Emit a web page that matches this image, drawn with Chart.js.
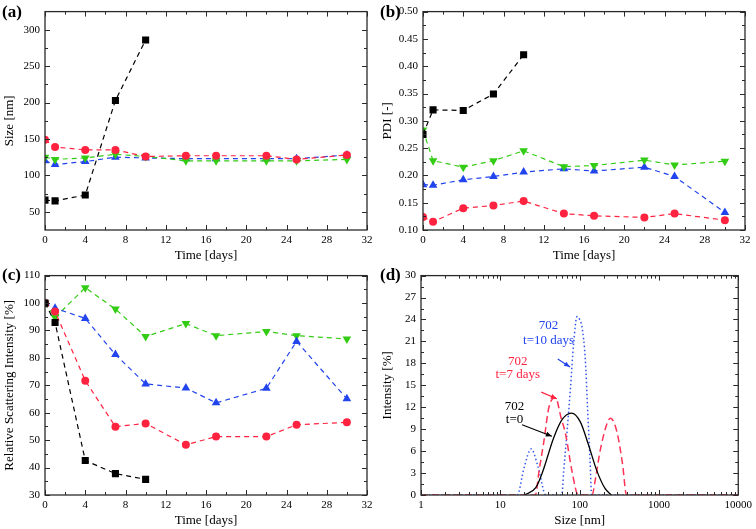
<!DOCTYPE html>
<html><head><meta charset="utf-8">
<script src="https://cdn.jsdelivr.net/npm/chart.js@4"></script>
<style>
body{margin:0;background:#fff;width:756px;height:529px;position:relative;overflow:hidden;font-family:"Liberation Serif",serif}
.p{position:absolute}
.lab{position:absolute;font:bold 17px "Liberation Serif";color:#000;line-height:20px}
</style></head><body>
<div class="p" style="left:0;top:0;width:378px;height:264px"><canvas id="ca"></canvas></div>
<div class="p" style="left:378px;top:0;width:378px;height:264px"><canvas id="cb"></canvas></div>
<div class="p" style="left:0;top:264px;width:378px;height:265px"><canvas id="cc"></canvas></div>
<div class="p" style="left:378px;top:264px;width:378px;height:265px"><canvas id="cd"></canvas></div>
<div class="lab" style="left:2px;top:2px">(a)</div>
<div class="lab" style="left:380px;top:2px">(b)</div>
<div class="lab" style="left:2px;top:265px">(c)</div>
<div class="lab" style="left:380px;top:265px">(d)</div>
<script>
// ---------- data ----------
const days = [0,1,4,7,10,14,17,22,25,30];
const daysShort = [0,1,4,7,10];
const timeTicks = [0,4,8,12,16,20,24,28,32];

// (a) Size [nm]
const sizeBlack = [66,65,73,203,286];
const sizeRed   = [149,139,135,135,126,127,127,127,122,128];
const sizeGreen = [125,122,124,129,126,120,120,120,120,122];
const sizeBlue  = [120,115,119,125,124,123,123,123,123,128];
const sizeTicks = [50,100,150,200,250,300];

// (b) PDI
const pdiBlack = [0.275,0.320,0.319,0.349,0.421];
const pdiGreen = [0.283,0.227,0.215,0.227,0.245,0.216,0.218,0.228,0.219,0.226];
const pdiBlue  = [0.183,0.182,0.192,0.198,0.206,0.212,0.208,0.215,0.198,0.132];
const pdiRed   = [0.124,0.115,0.140,0.145,0.153,0.130,0.126,0.123,0.130,0.118];
const pdiTicks = [0.10,0.15,0.20,0.25,0.30,0.35,0.40,0.45,0.50];

// (c) Relative scattering intensity [%]
const rsiBlack = [100,92.9,42.6,37.8,35.7];
const rsiRed   = [100,96.9,71.7,54.9,56.1,48.3,51.3,51.3,55.6,56.5];
const rsiBlue  = [100,98.1,94.4,81.2,70.5,69,63.6,68.9,86,65.1];
const rsiGreen = [100,94.7,105.6,97.8,87.8,92.5,88.1,89.6,88.1,86.9];
const rsiTicks = [30,40,50,60,70,80,90,100,110];

// (d) Size distributions
const dBlackSize = [20,28,34,47,60,79,102,129,165,209,250];
const dBlackInt  = [0,1.0,3.1,7.8,10.3,11.2,10.0,6.9,3.3,0.9,0];
const dRedSize = [1,27.6,31,35.5,41,49.7,58.5,66.6,80,96,143,160,181,219,245,294,348,390,10000];
const dRedInt  = [0,0,3.5,7.4,12,13.3,10.5,8.3,3.3,0,0,2.5,6,9.6,10.5,8.7,4.2,0,0];
const dBlueSize = [1,16.3,20,24.5,30,37.5,59.6,63,69.5,76.5,84,92.7,100,107,118,126,135,142,10000];
const dBlueInt  = [0,0,3.8,6.3,3.8,0,0,3.3,8.7,14.5,20.7,24.4,24,23,18.5,11.8,5,0,0];
const dSizeTicks = [1,10,100,1000,10000];
const dIntTicks = [0,3,6,9,12,15,18,21,24,27,30];

// ---------- styles ----------
const BLACK='#000000', RED='#ff2340', GREEN='#33cc14', BLUE='#2244ee';
const FONT='"Liberation Serif", "Times New Roman", serif';

const frameTicks = {
  id:'frameTicks',
  afterDatasetsDraw(chart, args, opts){
    const {ctx, chartArea:a} = chart;
    const xs = chart.scales.x, ys = chart.scales.y;
    ctx.save();
    ctx.strokeStyle='#2a2a2a'; ctx.lineWidth=1; ctx.setLineDash([]);
    const L=(x1,y1,x2,y2)=>{ctx.beginPath();ctx.moveTo(x1,y1);ctx.lineTo(x2,y2);ctx.stroke();};
    const xt=(v,len)=>{const p=Math.round(xs.getPixelForValue(v))+0.5; L(p,a.bottom,p,a.bottom-len); L(p,a.top,p,a.top+len);};
    const yt=(v,len)=>{const p=Math.round(ys.getPixelForValue(v))+0.5; L(a.left,p,a.left+len,p); L(a.right,p,a.right-len,p);};
    xs.ticks.forEach(t=>xt(t.value,5));
    ys.ticks.forEach(t=>yt(t.value,5));
    (opts.xMinor||[]).forEach(v=>xt(v,3));
    (opts.yMinor||[]).forEach(v=>yt(v,3));
    ctx.lineWidth=1.3;
    ctx.strokeRect(a.left, a.top, a.width, a.height);
    ctx.restore();
  }
};

function ds(xv, yv, color, style, opt={}){
  return Object.assign({
    data: xv.map((x,i)=>({x, y:yv[i]})),
    borderColor: color, backgroundColor: color,
    borderWidth: 1.2, borderDash:[5,4],
    pointStyle: style, pointRadius: style==='rect'?5:(style==='circle'?4:5),
    pointBorderWidth: 0, pointHoverRadius:0,
  }, opt);
}

function opts(c){
  return {
    responsive:true, maintainAspectRatio:false, animation:false,
    events:[],
    layout:{padding:{top:c.top, right:c.right, left:0, bottom:0}},
    plugins:{legend:{display:false}, tooltip:{enabled:false},
      frameTicks:{xMinor:c.xMinor, yMinor:c.yMinor}, notes:c.notes||null},
    scales:{
      x:{type:c.xType||'linear', min:c.xMin, max:c.xMax,
        grid:{display:false, drawTicks:false}, border:{display:false},
        ticks:{padding:4, color:'#000', font:{family:FONT, size:11}, autoSkip:false, maxRotation:0,
          callback:v=>String(v)},
        afterBuildTicks:s=>{s.ticks=c.xTicks.map(v=>({value:v}));},
        afterFit:s=>{s.height=c.xh;},
        title:{display:true, text:c.xTitle, color:'#000', font:{family:FONT, size:13}, padding:{top:0,bottom:1}}
      },
      y:{type:'linear', min:c.yMin, max:c.yMax,
        grid:{display:false, drawTicks:false}, border:{display:false},
        ticks:{padding:5, color:'#000', font:{family:FONT, size:11}, autoSkip:false,
          callback:c.yFmt||(v=>String(v))},
        afterBuildTicks:s=>{s.ticks=c.yTicks.map(v=>({value:v}));},
        afterFit:s=>{s.width=c.yw;},
        title:{display:true, text:c.yTitle, color:'#000', font:{family:FONT, size:13}, padding:{top:2,bottom:2}}
      }
    }
  };
}

const range=(a,b,s)=>{const r=[];for(let v=a;v<=b+1e-9;v+=s)r.push(+v.toFixed(4));return r;};
const xMinorDays = range(2,30,4);

Chart.register(frameTicks);

// notes plugin for panel (d)
const notes = {
  id:'notes',
  afterDatasetsDraw(chart, args, o){
    if(!o || !o.items) return;
    const {ctx} = chart; const xs=chart.scales.x, ys=chart.scales.y;
    ctx.save();
    ctx.font='13px '+FONT; ctx.textAlign='center'; ctx.textBaseline='middle';
    o.items.forEach(it=>{
      ctx.fillStyle=it.color;
      it.lines.forEach((t,i)=>ctx.fillText(t, xs.getPixelForValue(it.x), ys.getPixelForValue(it.y[i])));
      const x1=xs.getPixelForValue(it.a[0]), y1=ys.getPixelForValue(it.a[1]);
      const x2=xs.getPixelForValue(it.a[2]), y2=ys.getPixelForValue(it.a[3]);
      ctx.strokeStyle=it.color; ctx.lineWidth=1.2; ctx.setLineDash([]);
      ctx.beginPath(); ctx.moveTo(x1,y1); ctx.lineTo(x2,y2); ctx.stroke();
      const ang=Math.atan2(y2-y1,x2-x1), h=6, w=2.5;
      ctx.beginPath(); ctx.moveTo(x2,y2);
      ctx.lineTo(x2-h*Math.cos(ang)+w*Math.sin(ang), y2-h*Math.sin(ang)-w*Math.cos(ang));
      ctx.lineTo(x2-h*Math.cos(ang)-w*Math.sin(ang), y2-h*Math.sin(ang)+w*Math.cos(ang));
      ctx.closePath(); ctx.fill();
    });
    ctx.restore();
  }
};
Chart.register(notes);

// (a)
new Chart(document.getElementById('ca'), {type:'line',
  data:{datasets:[
    ds(daysShort,sizeBlack,BLACK,'rect'),
    ds(days,sizeRed,RED,'circle'),
    ds(days,sizeGreen,GREEN,'triangle',{pointRotation:180}),
    ds(days,sizeBlue,BLUE,'triangle'),
  ]},
  options:opts({top:5,right:11,xh:34,yw:45,xMin:0,xMax:32,xTicks:timeTicks,yMin:25,yMax:325,yTicks:sizeTicks,
    xMinor:xMinorDays,yMinor:range(75,275,50),xTitle:'Time [days]',yTitle:'Size [nm]'})
});

// (b)
new Chart(document.getElementById('cb'), {type:'line',
  data:{datasets:[
    ds(daysShort,pdiBlack,BLACK,'rect'),
    ds(days,pdiGreen,GREEN,'triangle',{pointRotation:180}),
    ds(days,pdiBlue,BLUE,'triangle'),
    ds(days,pdiRed,RED,'circle'),
  ]},
  options:opts({top:6,right:11,xh:34,yw:45,xMin:0,xMax:32,xTicks:timeTicks,yMin:0.10,yMax:0.50,yTicks:pdiTicks,
    xMinor:xMinorDays,yMinor:range(0.125,0.475,0.05),xTitle:'Time [days]',yTitle:'PDI [-]',yFmt:v=>v.toFixed(2)})
});

// (c)
new Chart(document.getElementById('cc'), {type:'line',
  data:{datasets:[
    ds(daysShort,rsiBlack,BLACK,'rect'),
    ds(days,rsiRed,RED,'circle'),
    ds(days,rsiBlue,BLUE,'triangle'),
    ds(days,rsiGreen,GREEN,'triangle',{pointRotation:180}),
  ]},
  options:opts({top:7,right:11,xh:34,yw:45,xMin:0,xMax:32,xTicks:timeTicks,yMin:30,yMax:110,yTicks:rsiTicks,
    xMinor:xMinorDays,yMinor:range(35,105,10),xTitle:'Time [days]',yTitle:'Relative Scattering Intensity [%]'})
});

// (d)
const logMinor=[]; [1,10,100,1000].forEach(d=>{for(let k=2;k<=9;k++)logMinor.push(k*d);});
const curve=(xv,yv,color,dash,w)=>({data:xv.map((x,i)=>({x,y:yv[i]})),borderColor:color,backgroundColor:color,
  borderWidth:w,borderDash:dash,pointRadius:0,cubicInterpolationMode:'monotone'});
new Chart(document.getElementById('cd'), {type:'line',
  data:{datasets:[
    curve(dBlackSize,dBlackInt,BLACK,[],1.3),
    curve(dRedSize,dRedInt,'#ff3355',[7,4],1.5),
    curve(dBlueSize,dBlueInt,'#3355ee',[1.5,2.5],1.5),
  ]},
  options:opts({top:7,right:15,xh:34,yw:43,xType:'logarithmic',xMin:1,xMax:10000,xTicks:dSizeTicks,yMin:0,yMax:30,yTicks:dIntTicks,
    xMinor:logMinor,yMinor:range(1.5,28.5,3),xTitle:'Size [nm]',yTitle:'Intensity [%]',
    notes:{items:[
      {color:'#2244ee',lines:['702','t=10 days'],x:40.6,y:[23.1,21.1],a:[53,18.6,75.6,17.5]},
      {color:'#ff2340',lines:['702','t=7 days'],x:16.6,y:[18.3,16.4],a:[32.8,14.06,51.6,13.16]},
      {color:'#000000',lines:['702','t=0'],x:15.1,y:[12.15,10.27],a:[18.8,9.6,44.7,8.04]},
    ]}})
});
</script>
</body></html>
